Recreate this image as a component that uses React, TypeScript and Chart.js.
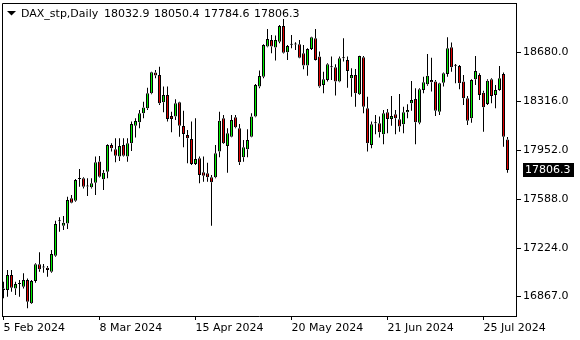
import React, { useEffect, useRef } from 'react';
import { Chart, registerables } from 'chart.js';

Chart.register(...registerables);

const symbolTitle = 'DAX_stp,Daily';

const opens = [16926,16914,17025,16926,16958,16939,16988,16815,16981,17105,
17082,17080,17050,17169,17424,17392,17409,17595,17578,17739,
17744,17683,17677,17711,17868,17736,17793,17991,17959,17905,
17991,17905,18004,18135,18160,18227,18264,18375,18529,18511,
18308,18363,18207,18202,18308,18132,18066,18036,17850,17892,
17788,17781,17751,17751,17942,18189,17984,18053,18197,18115,
17900,17959,18053,18202,18425,18499,18722,18771,18715,18759,
18876,18680,18735,18737,18739,18672,18581,18705,18784,18648,
18437,18474,18569,18568,18462,18636,18623,18487,18511,18368,
18643,18264,17991,18153,18152,18071,18234,18185,18219,18182,
18145,18234,18301,18333,18157,18400,18442,18474,18462,18239,
18454,18519,18717,18579,18578,18462,18338,18189,18479,18511,
18380,18296,18479,18363,18400,18519,18032.9];

const highs = [16976,17062,17062,16976,16988,17038,17000,16988,17112,17194,
17107,17092,17211,17429,17454,17464,17607,17620,17739,17813,
17751,17744,17744,17905,17910,17806,17996,18004,18041,18041,
18041,18041,18165,18189,18251,18313,18417,18536,18549,18573,
18425,18425,18239,18331,18313,18246,18103,18165,18189,17905,
17905,17860,17768,17991,18239,18214,18115,18214,18214,18147,
18028,18108,18227,18445,18544,18739,18853,18809,18804,18883,
18928,18734,18809,18754,18771,18734,18710,18796,18853,18685,
18536,18598,18648,18591,18648,18784,18648,18561,18556,18655,
18653,18350,18165,18214,18202,18251,18259,18355,18251,18370,
18276,18294,18467,18412,18412,18499,18667,18640,18474,18454,
18529,18791,18752,18593,18586,18511,18355,18479,18652,18524,
18395,18479,18487,18437,18578,18529,18050.4];

const lows = [16852,16864,16901,16877,16864,16926,16778,16810,16968,17050,
17043,17013,17043,17162,17347,17360,17367,17558,17570,17682,
17669,17612,17669,17620,17749,17657,17744,17942,17863,17872,
17905,17867,17947,18046,18115,18189,18251,18368,18487,18289,
18234,18165,18085,18177,18053,17974,17855,17843,17843,17707,
17719,17719,17392,17744,17900,17999,17786,18048,18115,17843,
17867,17900,18048,18197,18412,18487,18717,18672,18618,18747,
18670,18623,18710,18697,18635,18554,18506,18697,18618,18417,
18375,18462,18474,18358,18457,18611,18417,18350,18276,18363,
18227,17942,17967,18071,18046,17996,18078,18135,18071,18090,
18078,18189,18246,17996,18145,18375,18432,18388,18207,18214,
18425,18499,18536,18449,18405,18288,18140,18157,18437,18326,
18090,18288,18301,18264,18395,17979,17784.6];

const closes = [16914,17025,16931,16958,16958,16988,16827,16981,17105,17068,
17082,17063,17181,17404,17424,17414,17583,17563,17732,17739,
17682,17683,17707,17863,17756,17786,17991,17967,17912,17984,
17912,18004,18147,18170,18227,18269,18375,18531,18507,18301,
18363,18185,18185,18301,18135,18073,18041,17850,17887,17768,
17763,17751,17714,17929,18172,18004,18078,18177,18123,17863,
17974,18028,18202,18437,18504,18734,18779,18722,18771,18876,
18677,18727,18735,18737,18640,18581,18705,18791,18623,18425,
18479,18591,18569,18462,18635,18636,18541,18511,18375,18653,
18276,18004,18145,18153,18085,18227,18185,18207,18189,18128,
18234,18251,18326,18160,18405,18457,18506,18457,18246,18449,
18524,18710,18568,18579,18449,18338,18172,18474,18541,18363,
18271,18469,18355,18400,18487,18053,17806.3];

const xTickIndex = [0, 24, 48, 72, 96, 120];
const xTickLabels = ['5 Feb 2024', '8 Mar 2024', '15 Apr 2024', '20 May 2024', '21 Jun 2024', '25 Jul 2024'];
const yTickValues = [16867, 17224, 17588, 17952, 18316, 18680];
const yMin = 16721;
const yMax = 19046;

const BULL = '#00F000';
const BEAR = '#E00000';
const INK = '#000000';
const FONT = '"DejaVu Sans", Verdana, sans-serif';

const overlayPlugin = {
  id: 'mtOverlay',
  afterDraw(chart: any) {
    const { ctx, chartArea } = chart;
    const last = closes.length - 1;
    ctx.save();
    ctx.strokeStyle = INK;
    ctx.lineWidth = 1;
    ctx.beginPath();
    ctx.moveTo(chartArea.left + 0.5, chartArea.bottom);
    ctx.lineTo(chartArea.left + 0.5, chartArea.top + 0.5);
    ctx.lineTo(chartArea.right + 1, chartArea.top + 0.5);
    ctx.stroke();
    ctx.fillStyle = INK;
    ctx.beginPath();
    ctx.moveTo(7, 11);
    ctx.lineTo(16, 11);
    ctx.lineTo(11.5, 15.5);
    ctx.closePath();
    ctx.fill();
    ctx.font = '11px ' + FONT;
    ctx.textBaseline = 'alphabetic';
    ctx.textAlign = 'left';
    ctx.fillText(symbolTitle, 21, 17);
    const vals = [opens[last], highs[last], lows[last], closes[last]];
    vals.forEach((v, k) => ctx.fillText(v.toFixed(1), 104 + k * 50, 17));
    const y = chart.scales.y.getPixelForValue(closes[last]);
    ctx.fillStyle = INK;
    ctx.fillRect(chartArea.right + 7, Math.round(y) - 7, 51, 14);
    ctx.fillStyle = '#FFFFFF';
    ctx.textBaseline = 'middle';
    ctx.fillText(closes[last].toFixed(1), chartArea.right + 9, Math.round(y));
    ctx.restore();
  },
};

export default function App() {
  const ref = useRef<HTMLCanvasElement>(null);

  useEffect(() => {
    const bodyData = opens.map((o, i) => ({ x: i, y: [o, closes[i]] }));
    const upperWick = highs.map((h, i) => ({ x: i, y: [Math.max(opens[i], closes[i]), h] }));
    const lowerWick = lows.map((l, i) => ({ x: i, y: [l, Math.min(opens[i], closes[i])] }));
    const bodyColors = opens.map((o, i) => (closes[i] > o ? BULL : closes[i] < o ? BEAR : INK));

    const wickStyle = {
      backgroundColor: INK,
      borderWidth: 0,
      barThickness: 1,
      maxBarThickness: 1,
      inflateAmount: 0,
      grouped: false,
      order: 1,
    };

    const chart = new Chart(ref.current as HTMLCanvasElement, {
      type: 'bar',
      data: {
        datasets: [
          {
            label: 'body',
            data: bodyData as any,
            backgroundColor: bodyColors,
            borderColor: INK,
            borderWidth: 1,
            borderSkipped: false,
            barThickness: 3,
            maxBarThickness: 3,
            minBarLength: 1,
            inflateAmount: 0,
            grouped: false,
            order: 0,
          } as any,
          { label: 'upper wick', data: upperWick as any, ...wickStyle } as any,
          { label: 'lower wick', data: lowerWick as any, ...wickStyle } as any,
        ],
      },
      options: {
        animation: false,
        responsive: false,
        devicePixelRatio: 1,
        layout: { padding: { left: 2, top: 3, right: 0, bottom: 0 } },
        plugins: { legend: { display: false }, tooltip: { enabled: false } },
        scales: {
          x: {
            type: 'linear',
            position: 'bottom',
            min: -0.375,
            max: 128.125,
            offset: false,
            afterBuildTicks: (scale: any) => {
              scale.ticks = xTickIndex.map((v) => ({ value: v }));
            },
            afterFit: (scale: any) => {
              scale.height = 24;
              scale.paddingLeft = 0;
              scale.paddingRight = 0;
              scale.paddingTop = 0;
              scale.paddingBottom = 0;
            },
            ticks: {
              autoSkip: false,
              maxRotation: 0,
              minRotation: 0,
              align: 'start',
              padding: 2,
              color: INK,
              font: { family: FONT, size: 11 },
              callback: (value: any) => {
                const k = xTickIndex.indexOf(Number(value));
                return k >= 0 ? xTickLabels[k] : '';
              },
            },
            grid: { drawOnChartArea: false, drawTicks: true, tickLength: 4, color: INK, offset: false },
            border: { display: true, color: INK, width: 1 },
          } as any,
          y: {
            type: 'linear',
            position: 'right',
            min: yMin,
            max: yMax,
            afterBuildTicks: (scale: any) => {
              scale.ticks = yTickValues.map((v) => ({ value: v }));
            },
            afterFit: (scale: any) => {
              scale.width = 64;
              scale.paddingLeft = 0;
              scale.paddingRight = 0;
              scale.paddingTop = 0;
              scale.paddingBottom = 0;
            },
            ticks: {
              padding: 2,
              color: INK,
              font: { family: FONT, size: 11 },
              callback: (value: any) => Number(value).toFixed(1),
            },
            grid: { drawOnChartArea: false, drawTicks: true, tickLength: 5, color: INK },
            border: { display: true, color: INK, width: 1 },
          } as any,
        },
      } as any,
      plugins: [overlayPlugin],
    });
    return () => chart.destroy();
  }, []);

  return (
    <div style={{ position: 'absolute', left: 0, top: 0, width: 580, height: 340, background: '#FFFFFF' }}>
      <canvas ref={ref} width={580} height={340} style={{ display: 'block', width: 580, height: 340 }} />
    </div>
  );
}
